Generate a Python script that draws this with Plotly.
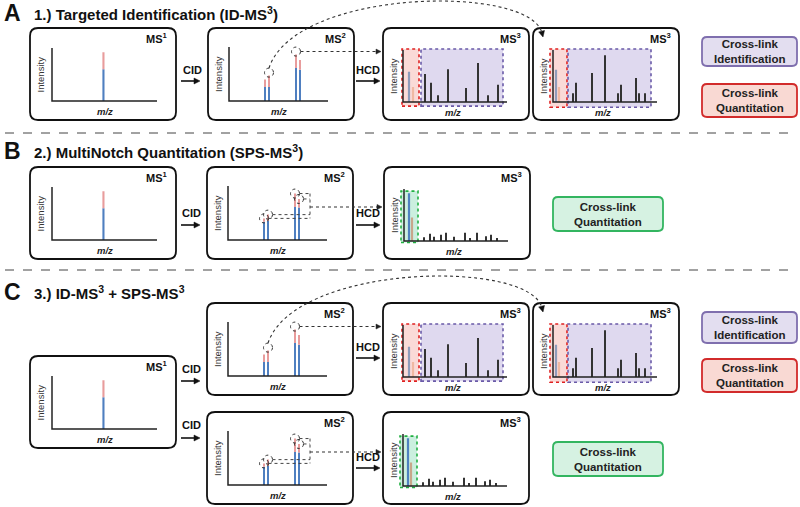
import math
import plotly.graph_objects as go

W, H = 800, 507
FONT = "Arial, Liberation Sans, sans-serif"

# ---------------- data ----------------
panel_letters = ["A", "B", "C"]
panel_titles = ["1.) Targeted Identification (ID-MS<sup>3</sup>)",
                "2.) MultiNotch Quantitation (SPS-MS<sup>3</sup>)",
                "3.) ID-MS<sup>3</sup> + SPS-MS<sup>3</sup>"]
legend_id = "Cross-link<br>Identification"
legend_quant = "Cross-link<br>Quantitation"
x_label = "m/z"
y_label = "Intensity"
act_labels = ["CID", "HCD"]

# MS1 precursor (relative m/z, relative intensity)
ms1_mz = [0.49]
ms1_total = [0.92]
ms1_blue = [0.60]

# MS2 spectra
ms2_mz = [0.36, 0.40, 0.67, 0.71]
ms2_total = [0.40, 0.47, 0.86, 0.76]
ms2_blue_id = [0.26, 0.26, 0.61, 0.58]
ms2_blue_sps = [0.34, 0.35, 0.61, 0.60]

# MS3 (ID) first
ms3a_rep_mz = [0.06, 0.10]
ms3a_rep_int = [0.58, 0.29]
ms3a_frag_mz = [0.22, 0.28, 0.35, 0.45, 0.63, 0.75, 0.85, 0.95]
ms3a_frag_int = [0.54, 0.37, 0.13, 0.63, 0.27, 0.75, 0.13, 0.33]

# MS3 (ID) second
ms3b_rep_mz = [0.03, 0.06]
ms3b_rep_int = [0.62, 0.29]
ms3b_frag_mz = [0.20, 0.23, 0.39, 0.52, 0.65, 0.68, 0.83, 0.86, 0.92]
ms3b_frag_int = [0.17, 0.37, 0.56, 0.90, 0.17, 0.33, 0.46, 0.17, 0.17]

# SPS-MS3
sps_rep_mz = [0.05, 0.08]
sps_rep_int = [0.92, 0.45]
sps_frag_mz = [0.20, 0.26, 0.30, 0.37, 0.42, 0.50, 0.61, 0.66, 0.73, 0.82, 0.87, 0.93]
sps_frag_int = [0.07, 0.14, 0.08, 0.12, 0.16, 0.08, 0.16, 0.06, 0.16, 0.09, 0.12, 0.06]

# ---------------- styles ----------------
BLUE = "#4f7fc0"
PINK = "#e89c9c"
REP1 = "#8e9cbb"
REP2 = "#f0b8a2"
SPS1 = "#4f82c0"
SPS2 = "#c8a68a"
FRAG = "#333333"
RED_REG = dict(fill="rgba(240,150,140,0.35)", line="#e02020")
PUR_REG = dict(fill="rgba(175,160,215,0.40)", line="#6a5aa8")
GRN_REG = dict(fill="rgba(140,220,185,0.45)", line="#20b040")

fig = go.Figure()
layout = {}
shapes = []
annotations = []
n_axes = [1]

BOX_W, BOX_H = 146, 92


def text(x, y, s, size=11, color="#111", xanchor="center", yanchor="middle", angle=0):
    annotations.append(dict(x=x, y=y, xref="x", yref="y", text=s, showarrow=False,
                            font=dict(family=FONT, size=size, color=color),
                            xanchor=xanchor, yanchor=yanchor, textangle=angle))


def rounded(x0, y0, x1, y1, r, line_color="#111", fill="white", width=1.8, layer="below"):
    p = (f"M{x0+r},{y0} L{x1-r},{y0} Q{x1},{y0} {x1},{y0+r} L{x1},{y1-r} Q{x1},{y1} {x1-r},{y1} "
         f"L{x0+r},{y1} Q{x0},{y1} {x0},{y1-r} L{x0},{y0+r} Q{x0},{y0} {x0+r},{y0} Z")
    shapes.append(dict(type="path", path=p, xref="x", yref="y", layer=layer,
                       line=dict(color=line_color, width=width), fillcolor=fill))


def tri(x, y, dx, dy, L=6, Wd=5, color="#111"):
    n = math.hypot(dx, dy)
    ux, uy = dx / n, dy / n
    bx, by = x - ux * L, y - uy * L
    px, py = -uy, ux
    p = f"M{x},{y} L{bx+px*Wd/2},{by+py*Wd/2} L{bx-px*Wd/2},{by-py*Wd/2} Z"
    shapes.append(dict(type="path", path=p, xref="x", yref="y", layer="above",
                       line=dict(color=color, width=0.5), fillcolor=color))


def line(x0, y0, x1, y1, color="#111", width=1.5, dash="solid"):
    shapes.append(dict(type="line", x0=x0, y0=y0, x1=x1, y1=y1, xref="x", yref="y", layer="above",
                       line=dict(color=color, width=width, dash=dash)))


def solid_arrow(x0, x1, y):
    line(x0, y, x1 - 5, y, width=1.6)
    tri(x1, y, 1, 0, L=6, Wd=6)


def dotted_arrow(x0, x1, y):
    line(x0, y, x1 - 4, y, color="#333", width=1.1, dash="dot")
    tri(x1, y, 1, 0, L=5, Wd=5, color="#222")


def circle(cx, cy, r=4.5):
    shapes.append(dict(type="circle", x0=cx - r, x1=cx + r, y0=cy - r, y1=cy + r, xref="x", yref="y",
                       layer="above", line=dict(color="#333", width=1, dash="dot")))


def new_axes(ox, oy, w, h, xr=(-0.08, 1.08), yr=(-0.15, 1.08)):
    i = n_axes[0] + 1
    n_axes[0] = i
    x0 = ox + xr[0] * w
    x1 = ox + xr[1] * w
    ytop = oy - yr[1] * h
    ybot = oy - yr[0] * h
    layout[f"xaxis{i}"] = dict(domain=[x0 / W, x1 / W], range=list(xr), visible=False,
                               anchor=f"y{i}", fixedrange=True)
    layout[f"yaxis{i}"] = dict(domain=[1 - ybot / H, 1 - ytop / H], range=list(yr), visible=False,
                               anchor=f"x{i}", fixedrange=True)
    return f"x{i}", f"y{i}", (lambda v: ox + v * w), (lambda v: oy - v * h)


def axis_L(xa, ya, xend=1.0, yend=1.0):
    fig.add_trace(go.Scatter(x=[0, 0, xend], y=[yend, 0, 0], mode="lines", xaxis=xa, yaxis=ya,
                             line=dict(color="#222", width=1.5), hoverinfo="skip", showlegend=False))


def bars(xa, ya, xs, ys, base, color, width=0.02):
    fig.add_trace(go.Bar(x=xs, y=ys, base=base, width=width, marker=dict(color=color, line=dict(width=0)),
                         xaxis=xa, yaxis=ya, hoverinfo="skip", showlegend=False))


def region(xa, ya, x0, x1, y0, y1, st):
    shapes.append(dict(type="rect", x0=x0, x1=x1, y0=y0, y1=y1, xref=xa, yref=ya, layer="below",
                       fillcolor=st["fill"], line=dict(color=st["line"], width=1.6, dash="dot")))


def frame(left, top, n):
    rounded(left, top, left + BOX_W, top + BOX_H, 8)
    text(left + BOX_W - 6, top + 10, f"<b>MS<sup>{n}</sup></b>", size=11, xanchor="right")


def labels(ox, oy, w, h, left):
    text(left + 10, oy - h / 2, y_label, size=9.5, color="#333", angle=-90)
    text(ox + w / 2, oy + 10, f"<b><i>{x_label}</i></b>", size=9.5, color="#222")


def draw_ms1(left, top):
    frame(left, top, 1)
    ox, oy, w, h = left + 22, top + 73, 105, 53
    xa, ya, fx, fy = new_axes(ox, oy, w, h)
    axis_L(xa, ya)
    bars(xa, ya, ms1_mz, ms1_blue, [0] * len(ms1_mz), BLUE)
    bars(xa, ya, ms1_mz, [t - b for t, b in zip(ms1_total, ms1_blue)], ms1_blue, PINK)
    labels(ox, oy, w, h, left)


def draw_ms2(left, top, blue):
    frame(left, top, 2)
    ox, oy, w, h = left + 21, top + 73, 100, 54
    xa, ya, fx, fy = new_axes(ox, oy, w, h)
    axis_L(xa, ya, xend=0.99)
    bars(xa, ya, ms2_mz, blue, [0] * len(ms2_mz), BLUE)
    bars(xa, ya, ms2_mz, [t - b for t, b in zip(ms2_total, blue)], blue, PINK)
    labels(ox, oy, w, h, left)
    return [(fx(m), fy(t)) for m, t in zip(ms2_mz, ms2_total)]


def draw_ms3(left, top, rep_x, rep_y, frag_x, frag_y, regs, rep_colors):
    frame(left, top, 3)
    ox, oy, w, h = left + 20, top + 74, 100, 52
    xa, ya, fx, fy = new_axes(ox, oy, w, h)
    for (x0, x1, y0, y1, st) in regs:
        region(xa, ya, x0, x1, y0, y1, st)
    axis_L(xa, ya, xend=1.04)
    for xv, yv, c in zip(rep_x, rep_y, rep_colors):
        bars(xa, ya, [xv], [yv], [0], c, width=0.022)
    bars(xa, ya, frag_x, frag_y, [0] * len(frag_x), FRAG, width=0.02)
    labels(ox, oy, w, h, left)


def legend_box(x0, y0, x1, y1, s, fill, border):
    rounded(x0, y0, x1, y1, 5, line_color=border, fill=fill, width=1.8)
    text((x0 + x1) / 2, (y0 + y1) / 2, f"<b>{s}</b>", size=11.5, color="#222")


# ---------------- titles & separators ----------------
for letter, title, ty in zip(panel_letters, panel_titles, [13, 151, 292]):
    text(2, ty, f"<b>{letter}</b>", size=23, xanchor="left")
    text(32, ty, f"<b>{title}</b>", size=15, xanchor="left")
for sy in [133, 270]:
    line(5, sy, 797, sy, color="#444", width=1, dash="dash")

# ---------------- panel A ----------------
tA = 28
draw_ms1(30, tA)
pA = draw_ms2(208, tA, ms2_blue_id)
draw_ms3(383, tA, ms3a_rep_mz, ms3a_rep_int, ms3a_frag_mz, ms3a_frag_int,
         [(-0.01, 0.16, -0.08, 1.02, RED_REG), (0.18, 1.0, -0.08, 1.02, PUR_REG)], [REP1, REP2])
draw_ms3(533, tA, ms3b_rep_mz, ms3b_rep_int, ms3b_frag_mz, ms3b_frag_int,
         [(-0.03, 0.14, -0.1, 1.02, RED_REG), (0.15, 0.98, -0.1, 1.02, PUR_REG)], [REP1, REP2])


def id_links(pts, top):
    (lx, ly), (rx, ry) = pts[1], pts[2]
    ly -= 3
    ry -= 3
    circle(lx, ly)
    circle(rx, ry)
    dotted_arrow(rx + 4.5, 381, ry)
    p0 = (lx, ly - 4.5)
    p1 = (295, top - 40)
    p2 = (530, top - 44)
    p3 = (542, top + 5)
    shapes.append(dict(type="path", xref="x", yref="y", layer="above",
                       path=f"M{p0[0]},{p0[1]} C{p1[0]},{p1[1]} {p2[0]},{p2[1]} {p3[0]},{p3[1]}",
                       line=dict(color="#333", width=1.1, dash="dot")))
    tri(p3[0] + 1, p3[1] + 4, p3[0] - p2[0], p3[1] - p2[1], L=6, Wd=6)


def sps_links(pts, left_ms3):
    bx = 310
    ys = []
    for (cx, cy) in pts:
        circle(cx, cy)
        line(cx + 4.5, cy, bx, cy, color="#444", width=1, dash="dot")
        ys.append(cy)
    line(bx, min(ys), bx, max(ys), color="#444", width=1, dash="dot")
    dotted_arrow(bx, left_ms3 - 2, (min(ys) + max(ys)) / 2 + 1)


id_links(pA, tA)
text(192, tA + 42, f"<b>{act_labels[0]}</b>", size=11)
solid_arrow(181, 200, tA + 53)
text(368, tA + 42, f"<b>{act_labels[1]}</b>", size=11)
solid_arrow(356, 380, tA + 53)
legend_box(702, 37, 797, 66, legend_id, "#e3def0", "#7f6fae")
legend_box(702, 84, 797, 117, legend_quant, "#f9d9d3", "#d22b2b")

# ---------------- panel B ----------------
tB = 167
draw_ms1(30, tB)
pB = draw_ms2(207, tB, ms2_blue_sps)
draw_ms3(384, tB, sps_rep_mz, sps_rep_int, sps_frag_mz, sps_frag_int,
         [(-0.03, 0.14, -0.03, 0.96, GRN_REG)], [SPS1, SPS2])
sps_links(pB, 384)
text(191, tB + 46, f"<b>{act_labels[0]}</b>", size=11)
solid_arrow(181, 200, tB + 58)
text(368, tB + 46, f"<b>{act_labels[1]}</b>", size=11)
solid_arrow(356, 380, tB + 58)
legend_box(553, 197, 663, 231, legend_quant, "#d6f2e2", "#33b560")

# ---------------- panel C ----------------
tC1, tC2 = 303, 412
draw_ms1(30, 356)
pC1 = draw_ms2(207, tC1, ms2_blue_id)
draw_ms3(383, tC1, ms3a_rep_mz, ms3a_rep_int, ms3a_frag_mz, ms3a_frag_int,
         [(-0.01, 0.16, -0.08, 1.02, RED_REG), (0.18, 1.0, -0.08, 1.02, PUR_REG)], [REP1, REP2])
draw_ms3(533, tC1, ms3b_rep_mz, ms3b_rep_int, ms3b_frag_mz, ms3b_frag_int,
         [(-0.03, 0.14, -0.1, 1.02, RED_REG), (0.15, 0.98, -0.1, 1.02, PUR_REG)], [REP1, REP2])
id_links(pC1, tC1)
pC2 = draw_ms2(207, tC2, ms2_blue_sps)
draw_ms3(383, tC2, sps_rep_mz, sps_rep_int, sps_frag_mz, sps_frag_int,
         [(-0.03, 0.14, -0.03, 0.96, GRN_REG)], [SPS1, SPS2])
sps_links(pC2, 383)
text(191, 369, f"<b>{act_labels[0]}</b>", size=11)
solid_arrow(181, 200, 381)
text(191, 425, f"<b>{act_labels[0]}</b>", size=11)
solid_arrow(181, 200, 438)
text(368, tC1 + 44, f"<b>{act_labels[1]}</b>", size=11)
solid_arrow(356, 380, tC1 + 55)
text(368, tC2 + 45, f"<b>{act_labels[1]}</b>", size=11)
solid_arrow(356, 380, tC2 + 56)
legend_box(702, 312, 797, 343, legend_id, "#e3def0", "#7f6fae")
legend_box(702, 359, 797, 392, legend_quant, "#f9d9d3", "#d22b2b")
legend_box(553, 442, 663, 476, legend_quant, "#d6f2e2", "#33b560")

# ---------------- layout ----------------
layout["xaxis"] = dict(domain=[0, 1], range=[0, W], visible=False, fixedrange=True)
layout["yaxis"] = dict(domain=[0, 1], range=[H, 0], visible=False, fixedrange=True)
fig.update_layout(width=W, height=H, margin=dict(l=0, r=0, t=0, b=0),
                  paper_bgcolor="white", plot_bgcolor="rgba(0,0,0,0)",
                  barmode="overlay", showlegend=False,
                  font=dict(family=FONT), shapes=shapes, annotations=annotations, **layout)
fig.write_html("out.html", config=dict(displayModeBar=False),
               post_script="document.body.style.margin='0px';document.body.style.overflow='hidden';")
